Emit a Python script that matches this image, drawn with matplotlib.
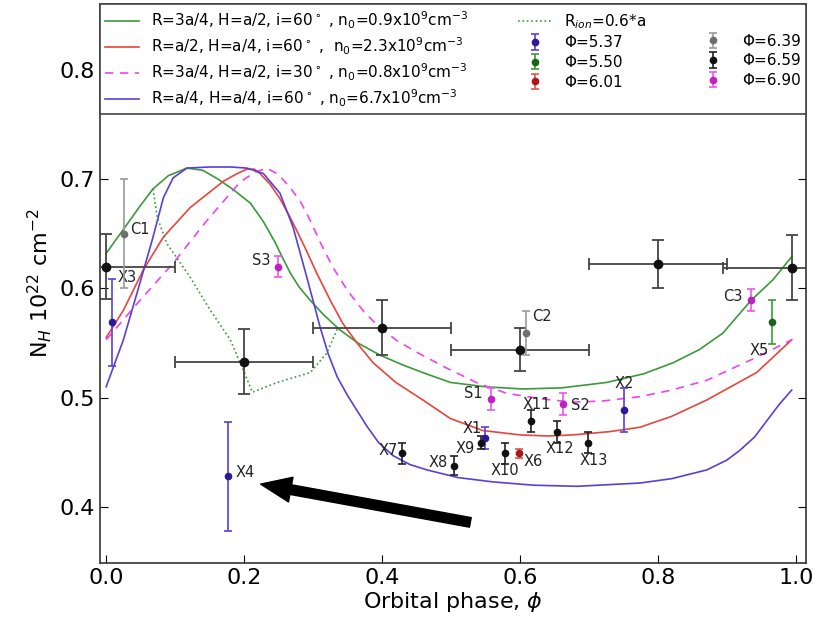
import matplotlib.pyplot as plt

# model curves
green_x = [0.0, 0.025, 0.05, 0.068, 0.09, 0.117, 0.14, 0.162, 0.185, 0.209, 0.228, 0.245, 0.255,
           0.267, 0.28, 0.296, 0.315, 0.339, 0.365, 0.397, 0.43, 0.459, 0.499, 0.55, 0.604, 0.66,
           0.726, 0.78, 0.822, 0.86, 0.894, 0.935, 0.967, 0.994]
green_y = [0.632, 0.654, 0.676, 0.691, 0.703, 0.71, 0.708, 0.70, 0.69, 0.678, 0.661, 0.642, 0.629,
           0.614, 0.601, 0.589, 0.576, 0.562, 0.55, 0.539, 0.53, 0.523, 0.514, 0.51, 0.508, 0.509,
           0.514, 0.522, 0.532, 0.544, 0.559, 0.589, 0.608, 0.629]

red_x = [0.0, 0.025, 0.054, 0.083, 0.122, 0.17, 0.19, 0.204, 0.215, 0.223, 0.238, 0.252, 0.265,
         0.277, 0.29, 0.306, 0.325, 0.343, 0.365, 0.387, 0.42, 0.459, 0.499, 0.546, 0.6, 0.64,
         0.677, 0.73, 0.774, 0.82, 0.871, 0.943, 0.994]
red_y = [0.555, 0.58, 0.617, 0.647, 0.674, 0.698, 0.705, 0.709, 0.709, 0.705, 0.695, 0.682, 0.667,
         0.652, 0.635, 0.613, 0.589, 0.568, 0.549, 0.532, 0.514, 0.498, 0.481, 0.47, 0.466, 0.465,
         0.466, 0.469, 0.473, 0.483, 0.498, 0.523, 0.553]

pink_x = [0.0, 0.049, 0.097, 0.146, 0.194, 0.215, 0.233, 0.25, 0.267, 0.282, 0.296, 0.312, 0.329,
          0.35, 0.372, 0.395, 0.422, 0.455, 0.494, 0.54, 0.581, 0.63, 0.677, 0.72, 0.774, 0.82,
          0.871, 0.943, 0.994]
pink_y = [0.553, 0.589, 0.623, 0.662, 0.697, 0.706, 0.71, 0.704, 0.692, 0.679, 0.662, 0.64, 0.619,
          0.598, 0.58, 0.565, 0.552, 0.54, 0.527, 0.513, 0.504, 0.499, 0.496, 0.497, 0.501, 0.507,
          0.516, 0.537, 0.553]

blue_x = [0.0, 0.025, 0.049, 0.068, 0.083, 0.097, 0.117, 0.15, 0.18, 0.204, 0.228, 0.252, 0.271,
          0.291, 0.31, 0.322, 0.335, 0.35, 0.364, 0.378, 0.395, 0.416, 0.44, 0.465, 0.51, 0.561,
          0.62, 0.683, 0.774, 0.82, 0.871, 0.9, 0.919, 0.94, 0.958, 0.976, 0.994]
blue_y = [0.51, 0.553, 0.605, 0.647, 0.683, 0.701, 0.71, 0.711, 0.711, 0.71, 0.705, 0.687, 0.656,
          0.61, 0.565, 0.54, 0.519, 0.502, 0.488, 0.474, 0.459, 0.447, 0.439, 0.434, 0.427, 0.423,
          0.42, 0.419, 0.422, 0.426, 0.434, 0.443, 0.452, 0.464, 0.479, 0.494, 0.507]

rion_x = [0.068, 0.074, 0.088, 0.122, 0.151, 0.18, 0.199, 0.212, 0.248, 0.296, 0.32, 0.336]
rion_y = [0.691, 0.665, 0.641, 0.61, 0.58, 0.553, 0.525, 0.505, 0.514, 0.523, 0.541, 0.564]

# binned points with phase bins (black, Phi=6.59)
bin_x = [0.0, 0.2, 0.4, 0.6, 0.8, 0.995]
bin_y = [0.62, 0.533, 0.564, 0.544, 0.622, 0.619]
bin_yerr = [0.03, 0.03, 0.025, 0.02, 0.022, 0.03]
bin_xerr = [0.1, 0.1, 0.1, 0.1, 0.1, 0.1]

# individual observations: name, phase, NH, error
obs = {
    "5.37": [("X1", 0.549, 0.463, 0.01), ("X2", 0.751, 0.489, 0.02),
             ("X3", 0.009, 0.569, 0.04), ("X4", 0.177, 0.428, 0.05)],
    "5.50": [("X5", 0.965, 0.569, 0.02)],
    "6.01": [("X6", 0.599, 0.449, 0.004)],
    "6.39": [("C1", 0.026, 0.65, 0.05), ("C2", 0.609, 0.559, 0.02)],
    "6.59": [("X7", 0.429, 0.449, 0.01), ("X8", 0.504, 0.438, 0.009),
             ("X9", 0.543, 0.459, 0.006), ("X10", 0.578, 0.449, 0.01),
             ("X11", 0.616, 0.479, 0.01), ("X12", 0.654, 0.469, 0.01),
             ("X13", 0.699, 0.459, 0.01)],
    "6.90": [("S1", 0.558, 0.499, 0.01), ("S2", 0.662, 0.494, 0.01),
             ("S3", 0.249, 0.62, 0.01), ("C3", 0.935, 0.589, 0.01)],
}
# marker colour, errorbar colour
obs_colors = {
    "5.37": ("#2a1a9a", "#5a3fd8"),
    "5.50": ("#1a651a", "#3c9a3c"),
    "6.01": ("#b01515", "#e85050"),
    "6.39": ("#6e6e6e", "#9a9a9a"),
    "6.59": ("#111111", "#222222"),
    "6.90": ("#c020c0", "#ee55ee"),
}
# label offsets in points (dx, dy, ha)
label_pos = {
    "C1": (4, 3, "left"), "X3": (4, 32, "left"), "S3": (-5, 4, "right"),
    "X4": (5, 3, "left"), "X7": (-3, 2, "right"), "X8": (-4, 2, "right"),
    "X9": (-4, -4, "right"), "X1": (-2, 7, "right"), "X10": (0, -12, "center"),
    "X6": (3, -6, "left"), "X11": (4, 12, "center"), "X12": (2, -12, "center"),
    "X13": (4, -13, "center"), "S1": (-6, 4, "right"), "S2": (6, -1, "left"),
    "C2": (4, 12, "left"), "X2": (0, 19, "center"), "C3": (-6, 3, "right"),
    "X5": (-9, -20, "center"),
}

arrow_head = (0.224, 0.421)
arrow_tail = (0.528, 0.386)

fig = plt.figure(figsize=(8.16, 6.24), dpi=100)
ax = fig.add_axes([0.1225, 0.098, 0.8655, 0.8955])

l1, = ax.plot(green_x, green_y, color="#3a9a3a", lw=1.2)
l2, = ax.plot(red_x, red_y, color="#e8453c", lw=1.2)
l3, = ax.plot(pink_x, pink_y, color="#ee44ee", lw=1.2, ls=(0, (5, 4)))
l4, = ax.plot(blue_x, blue_y, color="#5a3fd8", lw=1.2)
l5, = ax.plot(rion_x, rion_y, color="#3a9a3a", lw=1.2, ls=":")

ax.errorbar(bin_x, bin_y, yerr=bin_yerr, xerr=bin_xerr, fmt="o", color="#111111",
            ecolor="#444444", ms=6, capsize=4, elinewidth=1.3, capthick=1.3, zorder=4)

handles = {}
for key, pts in obs.items():
    mc, ec = obs_colors[key]
    xs = [p[1] for p in pts]
    ys = [p[2] for p in pts]
    es = [p[3] for p in pts]
    h = ax.errorbar(xs, ys, yerr=es, fmt="o", color=mc, ecolor=ec, ms=4.5,
                    capsize=3, elinewidth=1.2, capthick=1.2, zorder=5)
    handles[key] = h
    for name, x, y, e in pts:
        dx, dy, ha = label_pos[name]
        ax.annotate(name, (x, y), xytext=(dx, dy), textcoords="offset points",
                    ha=ha, va="center", fontsize=10.5, color="#222222")

ax.annotate("", xy=arrow_head, xytext=arrow_tail,
            arrowprops=dict(facecolor="black", edgecolor="black", width=7,
                            headwidth=18, headlength=22, shrink=0))

blank, = ax.plot([], [], ls="none")
leg_handles = [l1, l2, l3, l4, l5, handles["5.37"], handles["5.50"], handles["6.01"],
               blank, handles["6.39"], handles["6.59"], handles["6.90"]]
leg_labels = [
    r"R=3a/4, H=a/2, i=60$^\circ$ , n$_0$=0.9x10$^9$cm$^{-3}$",
    r"R=a/2, H=a/4, i=60$^\circ$ ,  n$_0$=2.3x10$^9$cm$^{-3}$",
    r"R=3a/4, H=a/2, i=30$^\circ$ , n$_0$=0.8x10$^9$cm$^{-3}$",
    r"R=a/4, H=a/4, i=60$^\circ$ , n$_0$=6.7x10$^9$cm$^{-3}$",
    r"R$_{ion}$=0.6*a",
    "Φ=5.37", "Φ=5.50", "Φ=6.01", "",
    "Φ=6.39", "Φ=6.59", "Φ=6.90",
]
leg = ax.legend(leg_handles, leg_labels, ncol=3, loc="upper center",
                bbox_to_anchor=(0, 0, 1, 1), mode="expand", borderaxespad=0,
                fontsize=11, fancybox=False, edgecolor="#444444", framealpha=1,
                handlelength=2.2, columnspacing=1.0, labelspacing=0.3, borderpad=0.35)
leg.get_frame().set_linewidth(1.2)

ax.set_xlim(-0.009, 1.015)
ax.set_ylim(0.349, 0.86)
ax.set_xticks([0.0, 0.2, 0.4, 0.6, 0.8, 1.0])
ax.set_yticks([0.4, 0.5, 0.6, 0.7, 0.8])
ax.tick_params(direction="in", length=6, labelsize=16, right=True, top=True)
for s in ax.spines.values():
    s.set_color("#333333")
    s.set_linewidth(1.2)

ax.set_xlabel(r"Orbital phase, $\phi$", fontsize=16, labelpad=2)
ax.set_ylabel(r"N$_H$ 10$^{22}$ cm$^{-2}$", fontsize=16, labelpad=4)

fig.savefig("out.png", dpi=100)
